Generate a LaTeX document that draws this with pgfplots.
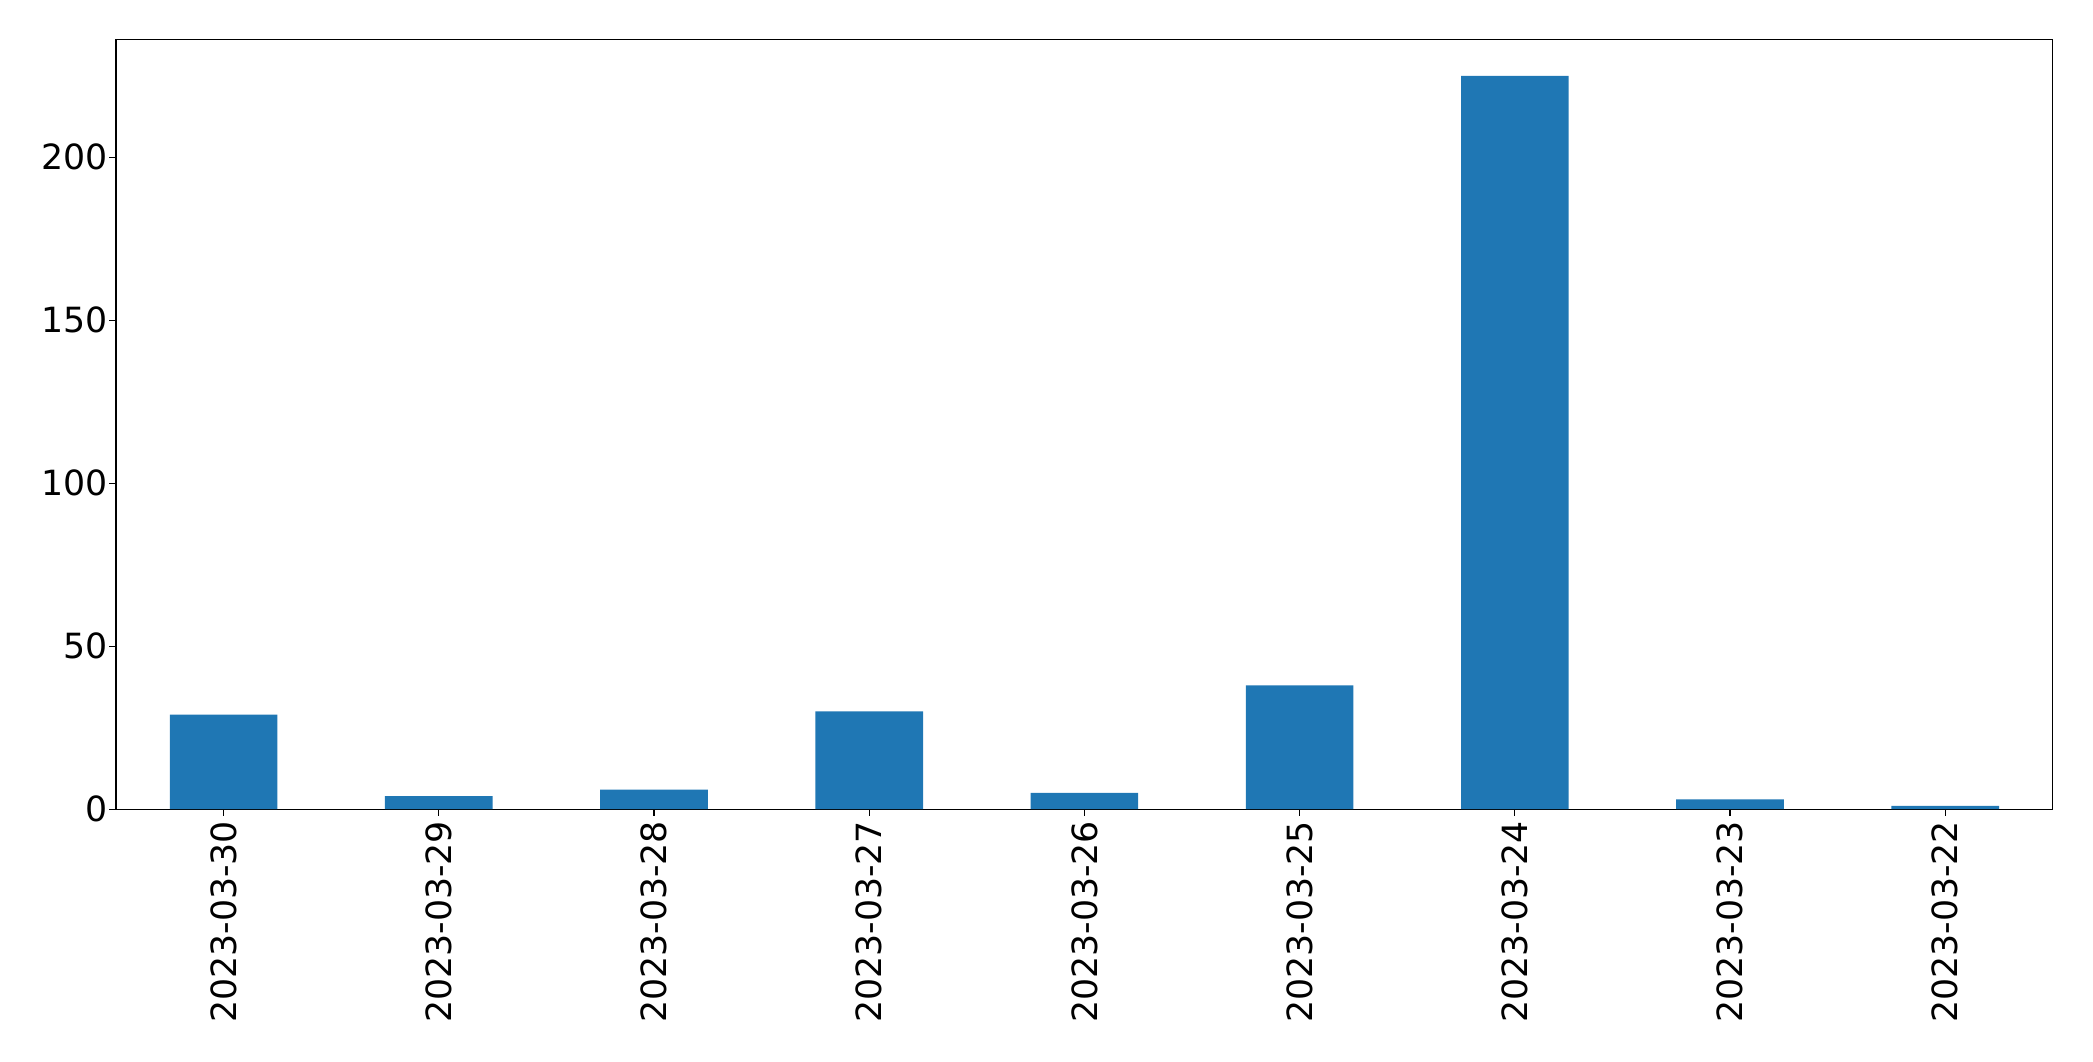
\documentclass[border=0pt]{standalone}
\usepackage{pgfplots}
\pgfplotsset{compat=1.18}
\usepackage{fontspec}
\setmainfont{DejaVu Sans}
\definecolor{tabblue}{HTML}{1F77B4}
\begin{document}
\begin{tikzpicture}
\begin{axis}[
  scale only axis,
  width=1394.6pt, height=554.4pt,
  xmin=-0.5, xmax=8.5,
  ymin=0, ymax=236.25,
  xtick={0,...,8},
  xticklabels={2023-03-30,2023-03-29,2023-03-28,2023-03-27,2023-03-26,2023-03-25,2023-03-24,2023-03-23,2023-03-22},
  ytick={0,50,100,150,200},
  xticklabel style={rotate=90, anchor=east, font=\fontsize{25}{30}\selectfont},
  yticklabel style={font=\fontsize{25}{30}\selectfont, xshift=2.5pt},
  /pgf/number format/assume math mode=true,
  tick align=outside,
  major tick length=4.9pt,
  tick style={black, line width=0.8pt},
  axis line style={line width=0.8pt},
  xtick pos=bottom, ytick pos=left,
  clip=false,
]
\addplot[ybar, bar width=0.5, fill=tabblue, draw=none, bar shift=0pt] coordinates {
(0,29) (1,4) (2,6) (3,30) (4,5) (5,38) (6,225) (7,3) (8,1)
};
\coordinate (ll) at (rel axis cs:0,0);
\end{axis}
\pgfresetboundingbox
\path[use as bounding box] ([shift={(-83.5pt,-181.4pt)}]ll) rectangle ([shift={(1423.5pt,582.6pt)}]ll);
\end{tikzpicture}
\end{document}
